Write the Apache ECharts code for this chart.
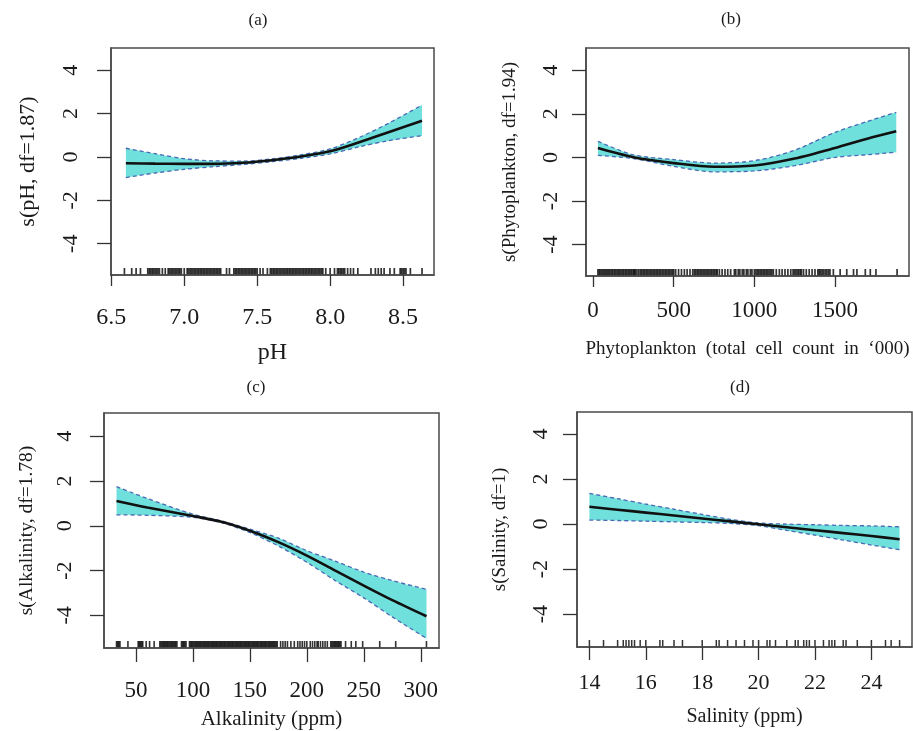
<!DOCTYPE html>
<html>
<head>
<meta charset="utf-8">
<script src="https://cdn.jsdelivr.net/npm/echarts@6/dist/echarts.min.js"></script>
<style>html,body{margin:0;padding:0;background:#fff}#c{width:913px;height:731px}</style>
</head>
<body>
<div id="c"></div>
<script>
// ---------- DATA ----------
const yTicks = [-4, -2, 0, 2, 4];

// (a) pH
const pHTicks = [6.5, 7.0, 7.5, 8.0, 8.5];
const pHX     = [6.6, 6.8, 7.0, 7.2, 7.4, 7.6, 7.8, 8.0, 8.2, 8.4, 8.63];
const pHFit   = [-0.29, -0.31, -0.32, -0.32, -0.27, -0.15, 0.02, 0.26, 0.68, 1.14, 1.67];
const pHUpper = [0.40, 0.15, -0.08, -0.18, -0.19, -0.09, 0.10, 0.37, 0.90, 1.55, 2.39];
const pHLower = [-0.95, -0.74, -0.57, -0.45, -0.35, -0.22, -0.06, 0.14, 0.47, 0.75, 0.98];
const pHRug = [6.59, 6.64, 6.67, 6.70,
  6.75, 6.76, 6.77, 6.78, 6.79, 6.80, 6.81, 6.82, 6.83, 6.85, 6.87,
  6.89, 6.90, 6.91, 6.92, 6.93, 6.94, 6.95, 6.96, 6.97, 6.98, 7.00, 7.02,
  7.03, 7.04, 7.05, 7.06, 7.07, 7.08, 7.09, 7.10, 7.11, 7.12, 7.13, 7.14, 7.15, 7.16, 7.17, 7.18, 7.19, 7.20, 7.21, 7.22, 7.23, 7.24, 7.25,
  7.29, 7.31, 7.34, 7.35, 7.36, 7.37, 7.38, 7.39, 7.40,
  7.41, 7.42, 7.43, 7.44, 7.45, 7.46, 7.47, 7.48, 7.49, 7.50, 7.52, 7.54, 7.57,
  7.59, 7.60, 7.61, 7.62, 7.63, 7.64, 7.65, 7.66, 7.67, 7.68, 7.69, 7.70, 7.71, 7.72, 7.73, 7.74, 7.75, 7.76, 7.77, 7.78, 7.79, 7.80,
  7.81, 7.82, 7.83, 7.84, 7.85, 7.86, 7.87, 7.88, 7.89, 7.90, 7.91, 7.92, 7.93, 7.94,
  7.95, 7.97, 8.00, 8.03, 8.05, 8.06, 8.07, 8.08, 8.09, 8.10, 8.12, 8.14, 8.16, 8.19,
  8.28, 8.31, 8.33, 8.35, 8.37, 8.41, 8.44, 8.48, 8.49, 8.50, 8.51, 8.52, 8.55, 8.63];

// (b) Phytoplankton
const phyTicks = [0, 500, 1000, 1500];
const phyX     = [30, 250, 500, 750, 1000, 1250, 1500, 1700, 1880];
const phyFit   = [0.43, 0.01, -0.26, -0.43, -0.37, -0.05, 0.43, 0.86, 1.20];
const phyUpper = [0.74, 0.12, -0.10, -0.26, -0.15, 0.33, 1.15, 1.65, 2.07];
const phyLower = [0.09, -0.05, -0.41, -0.66, -0.62, -0.38, 0.00, 0.12, 0.24];
const phyRug = [30, 38, 46, 55, 63, 72, 80, 88, 97, 105, 114, 122, 131, 139, 148, 156, 165, 173, 182, 190, 199, 207, 216, 224, 233, 241, 250, 256,
  262, 272, 283,
  293, 302, 311, 320, 329, 338, 347, 356, 365, 374, 383, 392, 401, 410, 419, 428,
  438, 447, 456, 465, 474, 483, 492, 500,
  512, 530, 548, 566, 583, 601, 618,
  628, 637, 646, 655, 664, 673, 682, 691, 700, 709, 718, 727, 736, 745, 754, 763, 770,
  783, 800, 818, 835, 853,
  876, 885, 900, 910, 925, 935, 950, 960, 975, 985, 1000,
  1010, 1019, 1028, 1037, 1046, 1055, 1064, 1073, 1082, 1091, 1100, 1109, 1118,
  1136, 1155, 1172, 1190, 1208, 1226,
  1240, 1249, 1258, 1267, 1276, 1285, 1292,
  1305, 1322, 1340, 1358, 1376, 1394,
  1402, 1411, 1420, 1430, 1440, 1450, 1460, 1469,
  1490, 1532, 1573, 1615, 1636, 1688, 1719, 1754, 1885];

// (c) Alkalinity
const alkTicks = [50, 100, 150, 200, 250, 300];
const alkX     = [33, 60, 100, 125, 150, 175, 200, 225, 250, 275, 305];
const alkFit   = [1.11, 0.82, 0.44, 0.18, -0.22, -0.73, -1.33, -2.00, -2.67, -3.32, -4.04];
const alkUpper = [1.75, 1.22, 0.52, 0.22, -0.15, -0.55, -1.11, -1.58, -2.07, -2.45, -2.84];
const alkLower = [0.49, 0.47, 0.38, 0.14, -0.30, -0.90, -1.63, -2.45, -3.22, -4.07, -5.03];
const alkRug = [33, 34, 35, 36, 43, 52, 53, 54, 55, 56, 59, 62, 66,
  71, 72, 73, 74, 75, 76, 77, 78, 79, 80, 81, 82, 83, 84, 85, 86,
  90, 91, 92, 93, 94,
  97, 98, 99, 100, 101, 102, 103, 104, 105, 106, 107, 108, 109, 110, 111, 112, 113, 114, 115, 116, 117, 118, 119, 120,
  121, 122, 123, 124, 125, 126, 127, 128, 129, 130, 131, 132, 133, 134, 135, 136, 137, 138, 139, 140, 141, 142, 143, 144, 145,
  146, 147, 148, 149, 150, 151, 152, 153, 154, 155, 156, 157, 158, 159, 160, 161, 162, 163, 164, 165, 166, 167, 168, 169, 170,
  171, 172, 173, 174,
  177, 179, 181, 183, 186, 189, 192, 194,
  196, 198, 200, 203, 205, 207, 209, 210, 212, 214, 216, 218,
  221, 222, 223, 224, 225, 226, 227, 228, 229, 230,
  234, 239, 243, 249, 264, 278, 305];

// (d) Salinity
const salTicks = [14, 16, 18, 20, 22, 24];
const salX     = [14, 15, 16, 17, 18, 19, 20, 21, 22, 23, 24, 25];
const salFit   = [0.77, 0.64, 0.51, 0.38, 0.25, 0.12, -0.01, -0.14, -0.27, -0.40, -0.53, -0.67];
const salUpper = [1.36, 1.13, 0.89, 0.66, 0.43, 0.21, 0.05, 0.00, -0.03, -0.06, -0.08, -0.12];
const salLower = [0.18, 0.16, 0.13, 0.10, 0.07, 0.03, -0.07, -0.28, -0.49, -0.71, -0.93, -1.14];
const salRug = [14.0, 14.5, 15.0, 15.2, 15.3, 15.4, 15.5, 15.6, 15.8, 16.0, 16.5, 16.6, 17.0, 17.3,
  18.0, 18.5, 18.6, 18.9, 19.2, 19.5, 19.8, 20.0, 20.3, 20.4, 20.6, 21.0, 21.3, 21.4, 21.6, 21.7, 21.8,
  22.0, 22.3, 22.5, 22.6, 22.7, 23.0, 23.1, 23.5, 24.0, 24.5, 24.7, 25.0];

// ---------- LAYOUT / STYLE ----------
const FONT = '"Liberation Serif", "Times New Roman", serif';
const TXT = '#1a1a1a';
const BAND = '#6fe0dc';
const DASH = '#4a68b3';

const panels = [
  { tag: '(a)', tagPos: [258, 21], grid: { left: 111, top: 48, width: 323, height: 227 },
    xMin: 6.498, xMax: 8.712, yMin: -5.44, yMax: 5.02,
    xTicks: pHTicks, fmt: v => v.toFixed(1), x: pHX, fit: pHFit, up: pHUpper, lo: pHLower, rug: pHRug,
    xName: 'pH', yName: 's(pH, df=1.87)', xNameSize: 24, yNameSize: 22, xNameGap: 66, yNameGap: 72,
    xLabSize: 24, xLabMargin: 31, yLabMargin: 29, xTickLen: 11, rugW: 1.7 },
  { tag: '(b)', tagPos: [731, 20], grid: { left: 586, top: 48, width: 323, height: 228 },
    xMin: -44, xMax: 1959, yMin: -5.44, yMax: 5.02,
    xTicks: phyTicks, fmt: v => String(v), x: phyX, fit: phyFit, up: phyUpper, lo: phyLower, rug: phyRug,
    xName: 'Phytoplankton  (total  cell  count  in  \u2018000)', yName: 's(Phytoplankton, df=1.94)', xNameSize: 19, yNameSize: 19, xNameGap: 64, yNameGap: 66,
    xLabSize: 23, xLabMargin: 23, yLabMargin: 24, xTickLen: 11, rugW: 1.7 },
  { tag: '(c)', tagPos: [256, 388], grid: { left: 104, top: 413, width: 335, height: 237 },
    xMin: 22, xMax: 316, yMin: -5.46, yMax: 5.04,
    xTicks: alkTicks, fmt: v => String(v), x: alkX, fit: alkFit, up: alkUpper, lo: alkLower, rug: alkRug,
    xName: 'Alkalinity (ppm)', yName: 's(Alkalinity, df=1.78)', xNameSize: 21, yNameSize: 19.5, xNameGap: 61, yNameGap: 67,
    xLabSize: 23, xLabMargin: 31, yLabMargin: 28, xTickLen: 14, rugW: 1.6 },
  { tag: '(d)', tagPos: [740, 388], grid: { left: 577, top: 412, width: 335, height: 235 },
    xMin: 13.56, xMax: 25.44, yMin: -5.46, yMax: 4.98,
    xTicks: salTicks, fmt: v => String(v), x: salX, fit: salFit, up: salUpper, lo: salLower, rug: salRug,
    xName: 'Salinity (ppm)', yName: 's(Salinity, df=1)', xNameSize: 20, yNameSize: 19, xNameGap: 60, yNameGap: 67,
    xLabSize: 22, xLabMargin: 25, yLabMargin: 25, xTickLen: 13, rugW: 1.5 }
];

const pairs = (xs, ys) => xs.map((x, i) => [x, ys[i]]);

const grids = [], xAxes = [], yAxes = [], series = [], graphics = [];
panels.forEach((p, i) => {
  grids.push(Object.assign({ show: true, z: 8, borderColor: '#4a4a4a', borderWidth: 1.5, backgroundColor: 'transparent' }, p.grid));
  xAxes.push({
    type: 'value', gridIndex: i, min: p.xMin, max: p.xMax, z: 9,
    name: p.xName, nameLocation: 'middle', nameGap: p.xNameGap,
    nameTextStyle: { fontFamily: FONT, fontSize: p.xNameSize, color: TXT },
    axisLine: { show: true, onZero: false, lineStyle: { color: '#4a4a4a', width: 1.5 } },
    axisTick: { show: true, inside: false, length: p.xTickLen, customValues: p.xTicks, lineStyle: { color: '#333', width: 1.3 } },
    axisLabel: { customValues: p.xTicks, formatter: p.fmt, margin: p.xLabMargin, fontFamily: FONT, fontSize: p.xLabSize, color: TXT },
    splitLine: { show: false }
  });
  yAxes.push({
    type: 'value', gridIndex: i, min: p.yMin, max: p.yMax, z: 9,
    name: p.yName, nameLocation: 'middle', nameGap: p.yNameGap, nameRotate: 90,
    nameTextStyle: { fontFamily: FONT, fontSize: p.yNameSize, color: TXT },
    axisLine: { show: true, onZero: false, lineStyle: { color: '#4a4a4a', width: 1.5 } },
    axisTick: { show: true, inside: false, length: 14, customValues: yTicks, lineStyle: { color: '#333', width: 1.3 } },
    axisLabel: { customValues: yTicks, rotate: 90, margin: p.yLabMargin, fontFamily: FONT, fontSize: 22, color: TXT },
    splitLine: { show: false }
  });
  // confidence band: cyan area under the upper bound, masked by white area under the lower bound
  series.push({
    type: 'line', xAxisIndex: i, yAxisIndex: i, data: pairs(p.x, p.up), symbol: 'none', smooth: 0.3,
    lineStyle: { opacity: 0 }, areaStyle: { color: BAND, opacity: 1, origin: p.yMin }, silent: true, z: 1
  });
  series.push({
    type: 'line', xAxisIndex: i, yAxisIndex: i, data: pairs(p.x, p.lo), symbol: 'none', smooth: 0.3,
    lineStyle: { opacity: 0 }, areaStyle: { color: '#ffffff', opacity: 1, origin: p.yMin }, silent: true, z: 2
  });
  // white edges below the band ends (hide anti-aliasing seams of the mask)
  const n = p.x.length - 1;
  series.push({
    type: 'custom', xAxisIndex: i, yAxisIndex: i, silent: true, z: 2, clip: false,
    data: [[p.x[0], p.lo[0]], [p.x[n], p.lo[n]]],
    renderItem: (params, api) => {
      const a = api.coord([api.value(0), api.value(1)]);
      const b = api.coord([api.value(0), p.yMin]);
      return { type: 'line', shape: { x1: a[0], y1: a[1] + 1, x2: b[0], y2: b[1] }, style: { stroke: '#ffffff', lineWidth: 2.2 } };
    }
  });
  [p.up, p.lo].forEach(arr => series.push({
    type: 'line', xAxisIndex: i, yAxisIndex: i, data: pairs(p.x, arr), symbol: 'none', smooth: 0.3,
    lineStyle: { color: DASH, width: 1.3, type: [4, 3] }, silent: true, z: 3
  }));
  series.push({
    type: 'line', xAxisIndex: i, yAxisIndex: i, data: pairs(p.x, p.fit), symbol: 'none', smooth: 0.3,
    lineStyle: { color: '#111', width: 2.6 }, silent: true, z: 4
  });
  series.push({
    type: 'scatter', xAxisIndex: i, yAxisIndex: i, data: p.rug.map(v => [v, p.yMin]),
    symbol: 'rect', symbolSize: [p.rugW, 7], symbolOffset: [0, -3.5], clip: false,
    itemStyle: { color: '#000' }, silent: true, z: 5
  });
  graphics.push({
    type: 'text', x: p.tagPos[0], y: p.tagPos[1],
    style: { text: p.tag, fontFamily: FONT, fontSize: 17, fill: TXT, align: 'center', verticalAlign: 'middle', textAlign: 'center', textVerticalAlign: 'middle' }
  });
});

const chart = echarts.init(document.getElementById('c'), null, { renderer: 'canvas' });
chart.setOption({
  animation: false,
  backgroundColor: '#ffffff',
  grid: grids, xAxis: xAxes, yAxis: yAxes, series: series, graphic: graphics
});
</script>
</body>
</html>
